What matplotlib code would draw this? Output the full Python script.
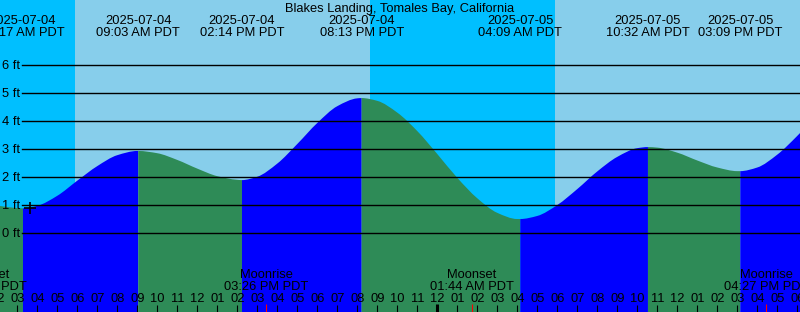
import matplotlib
matplotlib.use("Agg")
import matplotlib.pyplot as plt
from matplotlib.path import Path
from matplotlib.patches import PathPatch
import numpy as np

# hours counted from 2025-07-04 00:00 PDT
title = "Blakes Landing, Tomales Bay, California"
t_start, t_end = 2.135, 42.135

# tide heights, hourly (ft)
hourly_t = list(range(3, 43))
hourly_h = [0.90, 0.98, 1.34, 1.88, 2.40, 2.79, 2.94, 2.86, 2.62, 2.31,
            2.04, 1.91, 2.02, 2.49, 3.19, 3.94, 4.54, 4.82, 4.73, 4.31,
            3.65, 2.83, 1.98, 1.25, 0.73, 0.51, 0.62, 1.01, 1.58, 2.21,
            2.73, 3.04, 3.06, 2.88, 2.60, 2.35, 2.22, 2.35, 2.81, 3.48]
edge_h = [0.975, 3.58]

# high / low tides
tide_t = [3.283, 9.05, 14.233, 20.217, 28.15, 34.533, 39.15]
tide_h = [0.89, 2.94, 1.90, 4.83, 0.51, 3.08, 2.22]
tide_date = ["2025-07-04"] * 4 + ["2025-07-05"] * 3
tide_time = ["03:17 AM PDT", "09:03 AM PDT", "02:14 PM PDT", "08:13 PM PDT",
             "04:09 AM PDT", "10:32 AM PDT", "03:09 PM PDT"]

# sunrise / sunset
sunrise = [5.885, 29.885]
sunset = [20.635]

# moon events
moon_t = [1.38, 15.433, 25.733, 40.45]
moon_name = ["Moonset", "Moonrise", "Moonset", "Moonrise"]
moon_time = ["01:23 AM PDT", "03:26 PM PDT", "01:44 AM PDT", "04:27 PM PDT"]

now_t, now_h = 3.635, 0.90

W, H = 800, 312
fig = plt.figure(figsize=(W / 100, H / 100), dpi=100)
ax = fig.add_axes([0, 0, 1, 1])
ax.set_xlim(t_start, t_end)
y0 = 233.3
ax.set_ylim((y0 - H) / 28.0, y0 / 28.0)
ax.axis("off")

font = "Liberation Sans"
fs = 9.3


def fy(py):
    # pixel row -> axes fraction
    return 1 - py / H


# day / night background
ax.axvspan(t_start, t_end, color="#00BFFF", zorder=0, lw=0)
ax.axvspan(sunrise[0], sunset[0], color="#87CEEB", zorder=0, lw=0)
ax.axvspan(sunrise[1], t_end, color="#87CEEB", zorder=0, lw=0)

# tide curve
pts = dict(zip(hourly_t, hourly_h))
pts.update(dict(zip(tide_t, tide_h)))
pts[t_start] = edge_h[0]
pts[t_end] = edge_h[1]
t = np.array(sorted(pts))
h = np.array([pts[k] for k in t])

# monotone tangents so the drawn curve is smooth and flat at each turn
dt = np.diff(t)
sec = np.diff(h) / dt
d = np.zeros_like(h)
d[0], d[-1] = sec[0], sec[-1]
for i in range(1, len(h) - 1):
    s1, s2 = sec[i - 1], sec[i]
    if s1 * s2 > 0:
        w1 = 2 * dt[i] + dt[i - 1]
        w2 = dt[i] + 2 * dt[i - 1]
        d[i] = (w1 + w2) / (w1 / s1 + w2 / s2)

bottom = -5
bounds = [t_start] + tide_t + [t_end]
for a, b in zip(bounds[:-1], bounds[1:]):
    ia = int(np.where(t == a)[0][0])
    ib = int(np.where(t == b)[0][0])
    verts = [(a, bottom), (t[ia], h[ia])]
    codes = [Path.MOVETO, Path.LINETO]
    for i in range(ia, ib):
        k = dt[i] / 3
        verts += [(t[i] + k, h[i] + d[i] * k),
                  (t[i + 1] - k, h[i + 1] - d[i + 1] * k),
                  (t[i + 1], h[i + 1])]
        codes += [Path.CURVE4] * 3
    verts += [(b, bottom), (a, bottom)]
    codes += [Path.LINETO, Path.CLOSEPOLY]
    rising = pts[b] > pts[a]
    ax.add_patch(PathPatch(Path(verts, codes), lw=0, zorder=1,
                           facecolor="#0000FF" if rising else "#2E8B57"))

# grid lines + labels
for lev in range(0, 7):
    ax.axhline(lev, xmin=22 / W, color="black", lw=1.0, zorder=2)
    py = y0 - lev * 28
    ax.text(20 / W, fy(py + 4), "%d ft" % lev, transform=ax.transAxes,
            ha="right", va="baseline", fontsize=fs, family=font, zorder=3)

ax.plot([now_t], [now_h], marker="+", color="black", ms=8, mew=1.2, zorder=3)

# title + tide labels
ax.text(0.5, fy(12), title, transform=ax.transAxes, ha="center",
        va="baseline", fontsize=fs, family=font)
xt = ax.get_xaxis_transform()
for tt, dd, s in zip(tide_t, tide_date, tide_time):
    ax.text(tt, fy(24), dd, transform=xt, ha="center", va="baseline",
            fontsize=fs, family=font)
    ax.text(tt, fy(36), s, transform=xt, ha="center", va="baseline",
            fontsize=fs, family=font)

# hour ticks
for hr in range(2, 43):
    lbl = "%02d" % ((hr % 12) or 12)
    ax.text(hr, fy(301.7), lbl, transform=xt, ha="center", va="baseline",
            fontsize=fs, family=font, zorder=3)
    if hr % 24 == 0:
        ax.vlines(hr, 0, fy(304), transform=xt, color="black", lw=2.2, zorder=3)
    else:
        ax.vlines(hr, 0, fy(305), transform=xt, color="black", lw=0.8, zorder=3)

# moon events
for mt, name, s in zip(moon_t, moon_name, moon_time):
    ax.text(mt, fy(278), name, transform=xt, ha="center", va="baseline",
            fontsize=fs, family=font, zorder=3)
    ax.text(mt, fy(290), s, transform=xt, ha="center", va="baseline",
            fontsize=fs, family=font, zorder=3)
    ax.vlines(mt, 0, fy(304), transform=xt, color="red", lw=0.8, zorder=3)

fig.savefig("out.png", dpi=100)
